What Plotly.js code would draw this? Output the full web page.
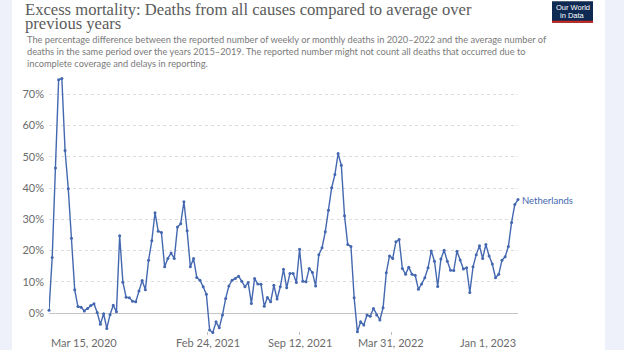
<!DOCTYPE html>
<html><head><meta charset="utf-8">
<script src="https://cdn.plot.ly/plotly-3.0.1.min.js"></script>
<style>
html,body{margin:0;padding:0;background:#eef0fa;width:624px;height:350px;overflow:hidden}
#chart{position:absolute;left:12px;top:0;width:593px;height:350px;background:#fff}
</style>
</head><body><div id="chart"></div>
<script>
// Weekly excess mortality (%) for the Netherlands, week ending Mar 15, 2020 ... Jan 1, 2023
const seriesName = 'Netherlands';
const firstWeek = '2020-03-15';
const excessPct = [
  0.9, 17.8, 46.4, 74.6, 75.0, 52.0, 39.8, 23.9, 7.5, 2.1,
  1.9, 0.7, 1.5, 2.4, 3.0, 0.2, -3.6, -0.2, -4.9, -0.5,
  2.5, 0.4, 24.7, 9.9, 5.1, 4.9, 3.8, 3.6, 7.1, 10.4,
  7.5, 16.9, 23.1, 32.1, 26.2, 25.8, 14.8, 17.5, 19.2, 17.5,
  27.5, 28.6, 35.6, 26.3, 14.8, 17.5, 11.4, 10.5, 8.4, 6.0,
  -5.4, -6.2, -2.8, -4.7, -0.6, 4.7, 8.7, 10.5, 11.1, 11.8,
  10.2, 8.4, 9.8, 3.1, 11.1, 9.3, 9.2, 2.2, 5.0, 3.6,
  8.9, 4.5, 8.4, 14.0, 8.1, 12.7, 12.7, 9.8, 20.4, 10.2,
  10.0, 14.3, 13.0, 8.7, 18.7, 20.9, 26.0, 32.9, 40.1, 44.3,
  51.0, 47.3, 31.1, 21.9, 21.3, 4.9, -6.0, -2.8, -3.8, -0.6,
  -1.0, 1.5, -0.6, -2.2, 1.7, 12.9, 18.3, 17.5, 22.8, 23.5,
  14.3, 12.4, 14.7, 12.4, 12.1, 7.6, 9.3, 11.3, 14.5, 19.9,
  16.6, 8.5, 17.3, 20.1, 16.6, 13.7, 13.6, 19.8, 17.0, 14.1,
  14.5, 6.6, 14.8, 18.7, 21.5, 17.5, 21.9, 18.3, 15.7, 11.3,
  12.4, 16.9, 18.0, 21.3, 29.0, 34.7, 36.3
];
const yTickVals = [0, 10, 20, 30, 40, 50, 60, 70];
const yTickText = ['0%', '10%', '20%', '30%', '40%', '50%', '60%', '70%'];
const xTickDates = ['2020-03-15', '2021-02-24', '2021-09-12', '2022-03-31', '2023-01-01'];
const xTickLabels = ['Mar 15, 2020', 'Feb 24, 2021', 'Sep 12, 2021', 'Mar 31, 2022', 'Jan 1, 2023'];
const titleLines = ['Excess mortality: Deaths from all causes compared to average over', 'previous years'];
const subtitleLines = [
  'The percentage difference between the reported number of weekly or monthly deaths in 2020\u20132022 and the average number of',
  'deaths in the same period over the years 2015\u20132019. The reported number might not count all deaths that occurred due to',
  'incomplete coverage and delays in reporting.'
];

// week-ending dates
const weekDates = excessPct.map((_, i) => {
  const d = new Date(firstWeek + 'T00:00:00Z');
  d.setUTCDate(d.getUTCDate() + 7 * i);
  return d.toISOString().slice(0, 10);
});

const lineColor = '#4468b0';
const W = 593, H = 350;
const mL = 37, mR = 87, mT = 76.7, mB = 15.1;
const plotW = W - mL - mR, plotH = H - mT - mB;
const px = x => (x - mL) / plotW;            // div px -> paper x
const py = y => (H - mB - y) / plotH;        // div px -> paper y

const trace = {
  x: weekDates, y: excessPct, name: seriesName,
  type: 'scatter', mode: 'lines+markers',
  line: {color: lineColor, width: 1.4},
  marker: {color: lineColor, size: 3},
  cliponaxis: false, hoverinfo: 'skip'
};

const annotations = [];
xTickDates.forEach((d, i) => {
  annotations.push({
    x: d, xref: 'x', y: 0, yref: 'paper', yshift: 1,
    text: xTickLabels[i], showarrow: false,
    xanchor: i === 0 ? 'left' : (i === xTickDates.length - 1 ? 'right' : 'center'),
    yanchor: 'top', font: {family: 'Lato', size: 11, color: '#6b6b6b'}
  });
});
annotations.push({
  x: weekDates[weekDates.length - 1], xref: 'x', y: excessPct[excessPct.length - 1], yref: 'y',
  text: seriesName, showarrow: false, xanchor: 'left', yanchor: 'middle', xshift: 2, yshift: -1,
  font: {family: 'Lato', size: 9.5, color: lineColor}
});
annotations.push({
  x: px(13), xref: 'paper', y: py(31.5), yref: 'paper', xanchor: 'left', yanchor: 'top', align: 'left',
  text: subtitleLines.join('<br>'), showarrow: false,
  font: {family: 'Lato', size: 9.25, color: '#7a7a7a'}
});
annotations.push({
  x: px(560.5), xref: 'paper', y: py(7.5), yref: 'paper', text: 'Our World', showarrow: false,
  font: {family: 'Liberation Sans', size: 7.5, color: '#ffffff'}, xanchor: 'center', yanchor: 'middle'
});
annotations.push({
  x: px(560.5), xref: 'paper', y: py(15.5), yref: 'paper', text: 'in Data', showarrow: false,
  font: {family: 'Liberation Sans', size: 7.5, color: '#ffffff'}, xanchor: 'center', yanchor: 'middle'
});

const shapes = [
  {type: 'rect', xref: 'paper', yref: 'paper', x0: px(540), x1: px(581), y0: py(22.5), y1: py(1),
   fillcolor: '#0f2a52', line: {width: 0}},
  {type: 'rect', xref: 'paper', yref: 'paper', x0: px(540), x1: px(581), y0: py(22.5), y1: py(20.5),
   fillcolor: '#ce261e', line: {width: 0}}
];

const layout = {
  width: W, height: H,
  margin: {l: mL, r: mR, t: mT, b: mB, pad: 0},
  paper_bgcolor: '#ffffff', plot_bgcolor: '#ffffff',
  showlegend: false, hovermode: false,
  title: {
    text: titleLines.map(t => '<span style="font-size:16.6px">' + t + '</span>').join('<br>'),
    x: 13 / W, xref: 'container', xanchor: 'left',
    y: 1 - 14.5 / H, yref: 'container', yanchor: 'top',
    font: {family: 'Liberation Serif', size: 11.5, color: '#5b5b5b'}
  },
  xaxis: {
    type: 'date', range: [firstWeek, weekDates[weekDates.length - 1]],
    showgrid: false, zeroline: false, showline: false,
    tickmode: 'array', tickvals: xTickDates, ticktext: xTickLabels, showticklabels: false,
    ticks: 'inside', ticklen: 3, tickcolor: '#bbbbbb', tickwidth: 1
  },
  yaxis: {
    range: [-7, 75.5], tickmode: 'array', tickvals: yTickVals, ticktext: yTickText,
    showgrid: true, gridcolor: '#dddddd', griddash: 'dot', gridwidth: 1,
    zeroline: true, zerolinecolor: '#c4c4c4', zerolinewidth: 1.2,
    showline: false, ticks: '', ticklabelstandoff: 4,
    tickfont: {family: 'Lato', size: 11, color: '#6b6b6b'}
  },
  annotations: annotations,
  shapes: shapes
};

Plotly.newPlot('chart', [trace], layout, {displayModeBar: false, staticPlot: true});
</script>
</body></html>
